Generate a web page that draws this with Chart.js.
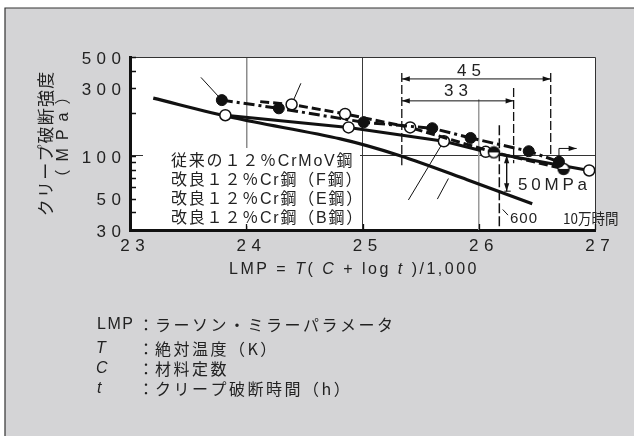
<!DOCTYPE html>
<html lang="ja">
<head>
<meta charset="UTF-8">
<title>LMP</title>
<script src="https://cdn.jsdelivr.net/npm/chart.js@4.4.1/dist/chart.umd.min.js"></script>
<style>
html, body { margin: 0; padding: 0; background: #fff; }
canvas { display: block; }
</style>
</head>
<body>
<canvas id="lmp-chart" width="634" height="436"></canvas>
<script>
// axis ticks
const xTicks = [23, 24, 25, 26, 27];
const yTicks = [30, 40, 50, 60, 70, 80, 90, 100, 200, 300, 400, 500];
const yLabeled = [30, 50, 100, 300, 500];

// series (LMP, MPa)
const convX = [23.20, 23.89, 24.81, 25.33, 25.90, 26.46];
const convY = [256, 186, 132, 100, 68, 46];
const bX = [23.82, 24.88, 25.70, 26.06, 26.95];
const bY = [194, 159, 127, 107, 79];
const fX = [23.79, 24.28, 25.01, 25.60, 25.93, 26.43, 26.69];
const fY = [248, 217, 173, 157, 134, 108, 91];
const eX = [24.12, 24.39, 24.85, 25.41, 26.13, 26.73];
const eY = [242, 231, 198, 159, 106, 81];
const eMark = ['', 'open', 'open', 'open', 'halfTop', 'halfBottom'];

// leaders, guides and dimension marks
const leaderF = [[23.61, 359], [23.79, 248]];
const leaderE = [[24.47, 326], [24.39, 231]];
const leaderB = [[25.395, 48.9], [25.696, 126]];
const leaderConv = [[25.644, 49.6], [25.739, 69.3]];
const leader600 = [[26.206, 41.9], [26.252, 38.2]];
const dim45 = [[25.338, 350], [26.619, 350]];
const dim33 = [[25.338, 245], [26.30, 245]];
const mpaArrow = [[26.24, 101], [26.24, 56.4]];
const mpaFoot = [[26.22, 56.4], [26.275, 56.4]];
const holdArrow = [[26.69, 91], [26.69, 113], [26.842, 113]];
const guide1 = [[25.338, 385], [25.338, 86]];
const guide2 = [[26.30, 302], [26.30, 89]];
const guide3 = [[26.619, 385], [26.619, 101]];
const guide600 = [[26.177, 165], [26.177, 30]];
const grid26 = [[26, 252], [26, 30]];

const heads = [
  [dim45[0], dim45[1]], [dim45[1], dim45[0]],
  [dim33[0], dim33[1]], [dim33[1], dim33[0]],
  [mpaArrow[0], mpaArrow[1]], [mpaArrow[1], mpaArrow[0]],
  [holdArrow[2], holdArrow[1]]
];

const toPts = (xs, ys) => xs.map((x, i) => ({ x: x, y: ys[i] }));
const pairPts = arr => arr.map(p => ({ x: p[0], y: p[1] }));

function halfMarker(top) {
  const c = document.createElement('canvas');
  c.width = c.height = 14;
  const g = c.getContext('2d');
  g.beginPath(); g.arc(7, 7, 5.5, 0, 2 * Math.PI);
  g.fillStyle = '#fff'; g.fill();
  g.beginPath();
  if (top) g.arc(7, 7, 5.5, Math.PI, 2 * Math.PI); else g.arc(7, 7, 5.5, 0, Math.PI);
  g.closePath(); g.fillStyle = '#111'; g.fill();
  g.beginPath(); g.arc(7, 7, 5.5, 0, 2 * Math.PI);
  g.lineWidth = 1.5; g.strokeStyle = '#111'; g.stroke();
  return c;
}
const halfTopImg = halfMarker(true);
const halfBottomImg = halfMarker(false);

function deco(pts, opt) {
  return Object.assign({
    data: pairPts(pts), borderColor: '#111', borderWidth: 1,
    pointRadius: 0, tension: 0, fill: false
  }, opt || {});
}

const LATIN = "'Liberation Sans', 'Noto Sans CJK JP', sans-serif";
const JP = "'Noto Sans CJK JP', sans-serif";

// text with manual tracking (char by char)
function txt(ctx, s, x, y, font, ls, align) {
  ls = ls || 0;
  ctx.save();
  ctx.font = font;
  ctx.fillStyle = '#222';
  ctx.textBaseline = 'middle';
  ctx.textAlign = 'left';
  const chars = Array.from(s);
  const w = chars.map(c => ctx.measureText(c).width);
  const total = w.reduce((a, b) => a + b, 0) + ls * (chars.length - 1);
  let cx = align === 'center' ? x - total / 2 : align === 'right' ? x - total : x;
  chars.forEach((c, i) => { ctx.fillText(c, cx, y); cx += w[i] + ls; });
  ctx.restore();
  return total;
}
function txtWidth(ctx, s, font, ls) {
  ctx.save();
  ctx.font = font;
  const chars = Array.from(s);
  const t = chars.reduce((a, c) => a + ctx.measureText(c).width, 0) + ls * chars.length;
  ctx.restore();
  return t;
}

const decorPlugin = {
  id: 'decor',
  beforeDraw(chart) {
    const ctx = chart.ctx, a = chart.chartArea;
    ctx.save();
    ctx.fillStyle = '#fff';
    ctx.fillRect(0, 0, chart.width, chart.height);
    ctx.fillStyle = '#d4d4d6';
    ctx.fillRect(5, 8, chart.width - 5, chart.height - 8);
    ctx.strokeStyle = '#333';
    ctx.lineWidth = 1.2;
    ctx.beginPath();
    ctx.moveTo(5, chart.height); ctx.lineTo(5, 8); ctx.lineTo(chart.width, 8);
    ctx.stroke();
    ctx.fillStyle = '#fff';
    ctx.fillRect(a.left, a.top, a.right - a.left, a.bottom - a.top);
    ctx.restore();
  },
  beforeDatasetsDraw(chart) {
    const ctx = chart.ctx;
    ctx.save();
    ctx.fillStyle = '#fff';
    ctx.fillRect(143, 148, 217, 78);
    ctx.restore();
  },
  afterDraw(chart) {
    const ctx = chart.ctx, a = chart.chartArea;
    const xs = chart.scales.x, ys = chart.scales.y;
    ctx.save();
    // thin top / right frame
    ctx.strokeStyle = '#333';
    ctx.lineWidth = 1;
    ctx.beginPath();
    ctx.moveTo(a.left, a.top + 0.5); ctx.lineTo(a.right + 0.5, a.top + 0.5); ctx.lineTo(a.right + 0.5, a.bottom);
    ctx.stroke();
    // inside ticks
    ctx.strokeStyle = '#111';
    ctx.lineWidth = 1.3;
    ctx.beginPath();
    yTicks.forEach(v => {
      const y = Math.round(ys.getPixelForValue(v)) + 0.5;
      ctx.moveTo(a.left, y); ctx.lineTo(a.left + 6, y);
    });
    xTicks.forEach(v => {
      const x = Math.round(xs.getPixelForValue(v)) + 0.5;
      ctx.moveTo(x, a.bottom); ctx.lineTo(x, a.bottom - 6);
    });
    ctx.stroke();
    // arrow heads
    ctx.fillStyle = '#111';
    heads.forEach(h => {
      const tx = xs.getPixelForValue(h[0][0]), ty = ys.getPixelForValue(h[0][1]);
      const bx = xs.getPixelForValue(h[1][0]), by = ys.getPixelForValue(h[1][1]);
      const ang = Math.atan2(ty - by, tx - bx);
      const L = 8, W = 2.6;
      const cx = tx - L * Math.cos(ang), cy = ty - L * Math.sin(ang);
      ctx.beginPath();
      ctx.moveTo(tx, ty);
      ctx.lineTo(cx - W * Math.sin(ang), cy + W * Math.cos(ang));
      ctx.lineTo(cx + W * Math.sin(ang), cy - W * Math.cos(ang));
      ctx.closePath();
      ctx.fill();
    });
    ctx.restore();

    // tick labels
    const tf = '17px ' + LATIN;
    yLabeled.forEach(v => txt(ctx, String(v), a.left - 9, ys.getPixelForValue(v) + 2, tf, 5.5, 'right'));
    xTicks.forEach(v => txt(ctx, String(v), xs.getPixelForValue(v) + 2.5, a.bottom + 16, tf, 5.5, 'center'));

    // labels inside the plot
    const lf = '16px ' + LATIN;
    txt(ctx, '従来の１２％CrMoV鋼', 171, 162, lf, 1.8);
    txt(ctx, '改良１２％Cr鋼（F鋼）', 171, 181, lf, 1.8);
    txt(ctx, '改良１２％Cr鋼（E鋼）', 171, 200, lf, 1.8);
    txt(ctx, '改良１２％Cr鋼（B鋼）', 171, 218.5, lf, 1.8);
    txt(ctx, '45', 469, 71, tf, 5, 'center');
    txt(ctx, '33', 456, 91, tf, 5, 'center');
    txt(ctx, '50MPa', 518, 185, tf, 3.8);
    txt(ctx, '600', 510, 218.5, '15px ' + LATIN, 1);
    ctx.save();
    ctx.translate(563, 218.5);
    ctx.scale(0.9, 1);
    txt(ctx, '10万時間', 0, 0, '15px ' + JP, 0);
    ctx.restore();

    // y axis title
    ctx.save();
    ctx.translate(46, 144);
    ctx.rotate(-Math.PI / 2);
    txt(ctx, 'クリープ破断強度', 0, 0, '17px ' + JP, 1.2, 'center');
    ctx.restore();
    ctx.save();
    ctx.translate(64, 137);
    ctx.rotate(-Math.PI / 2);
    txt(ctx, '（MPa）', 0, 0, '16px ' + LATIN, 8, 'center');
    ctx.restore();

    // x axis title with italic symbols
    const parts = [['LMP', 0], [' = ', 0], ['T', 1], ['( ', 0], ['C', 1], [' + log ', 0], ['t', 1], [' )/1,000', 0]];
    const fontOf = p => (p[1] ? 'italic ' : '') + '16px ' + LATIN;
    const total = parts.reduce((s, p) => s + txtWidth(ctx, p[0], fontOf(p), 2.5), 0);
    let px = 354 - total / 2;
    parts.forEach(p => {
      txt(ctx, p[0], px, 270, fontOf(p), 2.5);
      px += txtWidth(ctx, p[0], fontOf(p), 2.5);
    });

    // notes
    const nf = '16px ' + JP;
    txt(ctx, 'LMP', 97, 325, '16px ' + LATIN, 1.5);
    txt(ctx, 'T', 96, 349, 'italic 16px ' + LATIN, 0);
    txt(ctx, 'C', 96, 369, 'italic 16px ' + LATIN, 0);
    txt(ctx, 't', 97, 389, 'italic 16px ' + LATIN, 0);
    [325, 349, 369, 389].forEach(y => txt(ctx, '：', 138, y, nf, 0));
    txt(ctx, 'ラーソン・ミラーパラメータ', 155, 325, nf, 2.5);
    txt(ctx, '絶対温度（K）', 155, 349, nf, 2.5);
    txt(ctx, '材料定数', 155, 369, nf, 2.5);
    txt(ctx, 'クリープ破断時間（h）', 155, 389, nf, 2.5);
  }
};

new Chart(document.getElementById('lmp-chart'), {
  type: 'line',
  data: {
    datasets: [
      {
        label: '改良12%Cr鋼(F鋼)', data: toPts(fX, fY),
        borderColor: '#111', borderWidth: 3, borderDash: [11, 4, 3, 4],
        pointRadius: 5.5, pointBackgroundColor: '#111', pointBorderColor: '#111', pointBorderWidth: 1,
        tension: 0, fill: false
      },
      {
        label: '改良12%Cr鋼(E鋼)', data: toPts(eX, eY),
        borderColor: '#111', borderWidth: 3, borderDash: [9, 4],
        pointStyle: eMark.map(m => m === 'halfTop' ? halfTopImg : m === 'halfBottom' ? halfBottomImg : 'circle'),
        pointRadius: eMark.map(m => m ? 5.5 : 0),
        pointBackgroundColor: '#fff', pointBorderColor: '#111', pointBorderWidth: 1.5,
        tension: 0, fill: false
      },
      {
        label: '改良12%Cr鋼(B鋼)', data: toPts(bX, bY),
        borderColor: '#111', borderWidth: 3,
        pointRadius: 5.5, pointBackgroundColor: '#fff', pointBorderColor: '#111', pointBorderWidth: 1.5,
        tension: 0, fill: false
      },
      {
        label: '従来の12%CrMoV鋼', data: toPts(convX, convY),
        borderColor: '#111', borderWidth: 3.2, pointRadius: 0, tension: 0.3, fill: false
      },
      deco(leaderF), deco(leaderE), deco(leaderB), deco(leaderConv), deco(leader600),
      deco(dim45), deco(dim33), deco(mpaArrow), deco(mpaFoot), deco(holdArrow),
      deco(guide1, { borderDash: [9, 3], borderWidth: 1.3 }),
      deco(guide2, { borderDash: [9, 3], borderWidth: 1.3 }),
      deco(guide3, { borderDash: [9, 3], borderWidth: 1.3 }),
      deco(guide600, { borderDash: [10, 3], borderWidth: 1.5 }),
      deco(grid26, { borderColor: '#9a9a9a', borderWidth: 1.5 })
    ]
  },
  options: {
    responsive: false,
    animation: false,
    devicePixelRatio: 1,
    layout: { padding: { left: 0, top: 57, right: 39, bottom: 0 } },
    plugins: { legend: { display: false }, tooltip: { enabled: false } },
    scales: {
      x: {
        type: 'linear', min: 23, max: 27,
        afterBuildTicks: s => { s.ticks = xTicks.map(v => ({ value: v })); },
        afterFit: s => { s.height = 206; },
        grid: {
          drawTicks: false,
          color: c => c.tick && c.tick.value === 24 ? '#8c8c8c' : c.tick && c.tick.value === 25 ? '#3a3a3a' : 'rgba(0,0,0,0)',
          lineWidth: c => c.tick && c.tick.value === 24 ? 1.5 : 1
        },
        border: { display: true, color: '#111', width: 3 },
        ticks: { display: false }
      },
      y: {
        type: 'logarithmic', min: 30, max: 500,
        afterBuildTicks: s => { s.ticks = yTicks.map(v => ({ value: v })); },
        afterFit: s => { s.width = 130; },
        grid: {
          drawTicks: false,
          color: c => c.tick && c.tick.value === 100 ? '#333' : 'rgba(0,0,0,0)'
        },
        border: { display: true, color: '#111', width: 3 },
        ticks: { display: false }
      }
    }
  },
  plugins: [decorPlugin]
});
</script>
</body>
</html>
